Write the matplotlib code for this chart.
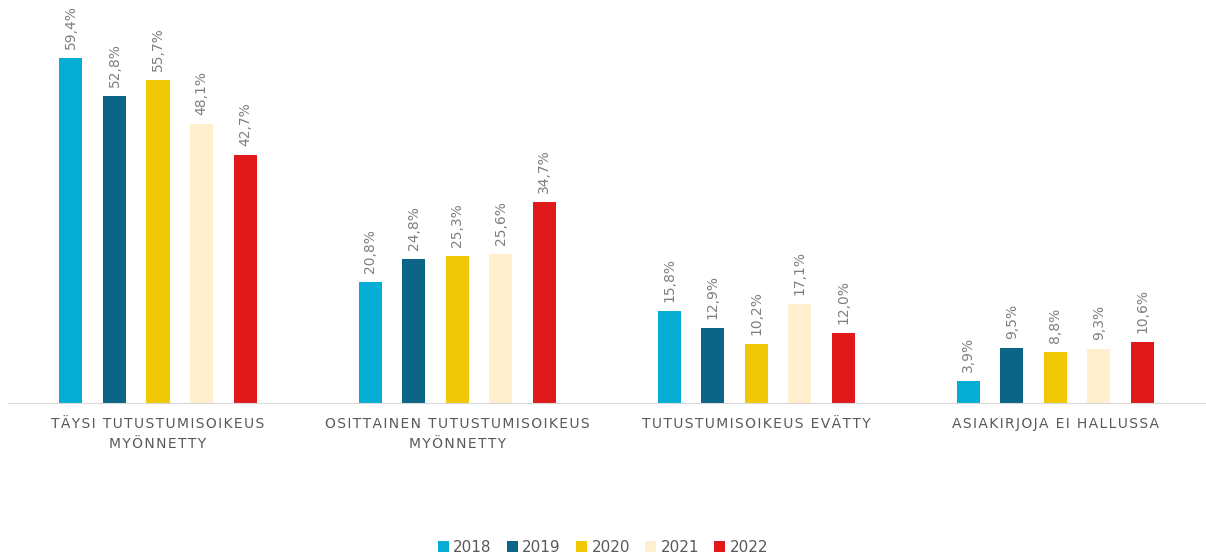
import matplotlib
matplotlib.use("Agg")
import matplotlib.pyplot as plt
import numpy as np

categories = [
    "TÄYSI TUTUSTUMISOIKEUS\nMYÖNNETTY",
    "OSITTAINEN TUTUSTUMISOIKEUS\nMYÖNNETTY",
    "TUTUSTUMISOIKEUS EVÄTTY",
    "ASIAKIRJOJA EI HALLUSSA",
]
years = ["2018", "2019", "2020", "2021", "2022"]
v2018 = [59.4, 20.8, 15.8, 3.9]
v2019 = [52.8, 24.8, 12.9, 9.5]
v2020 = [55.7, 25.3, 10.2, 8.8]
v2021 = [48.1, 25.6, 17.1, 9.3]
v2022 = [42.7, 34.7, 12.0, 10.6]
series = [v2018, v2019, v2020, v2021, v2022]
colors = ["#06AED5", "#0A6586", "#F1C806", "#FFEFCF", "#E01A1A"]

LABEL_GRAY = "#7F7F7F"
TEXT_GRAY = "#595959"


def spaced(s):
    # mimic the tracked (letter-spaced) category labels
    return "\n".join("\u200a".join(line) for line in s.split("\n"))


fig = plt.figure(figsize=(12.06, 5.6), dpi=100)
ax = fig.add_axes([0.007, 0.28, 0.992, 0.72])

x = np.arange(len(categories))
width = 0.077
step = 0.1455
for i, (vals, col, yr) in enumerate(zip(series, colors, years)):
    pos = x + (i - 2) * step
    bars = ax.bar(pos, vals, width=width, color=col, label=yr)
    for b, v in zip(bars, vals):
        ax.annotate(
            f"{v:.1f}%".replace(".", ","),
            (b.get_x() + b.get_width() / 2, v),
            xytext=(0, 6.5), textcoords="offset points",
            rotation=90, ha="center", va="bottom",
            color=LABEL_GRAY, fontsize=10,
        )

ax.set_xlim(-0.5, len(categories) - 0.5)
ax.set_ylim(0, 69.4)
ax.set_yticks([])
ax.set_xticks(x)
ax.set_xticklabels([spaced(c) for c in categories], color=TEXT_GRAY,
                   fontsize=10, linespacing=1.5)
ax.tick_params(axis="x", length=0, pad=10)
for side in ("top", "right", "left"):
    ax.spines[side].set_visible(False)
ax.spines["bottom"].set_color("#D9D9D9")

fig.legend(loc="lower center", ncol=5, frameon=False, fontsize=11,
           handlelength=0.7, handleheight=0.7, handletextpad=0.3,
           columnspacing=1.0, bbox_to_anchor=(0.5, -0.015),
           labelcolor=TEXT_GRAY)

fig.savefig("out.png", dpi=100)
